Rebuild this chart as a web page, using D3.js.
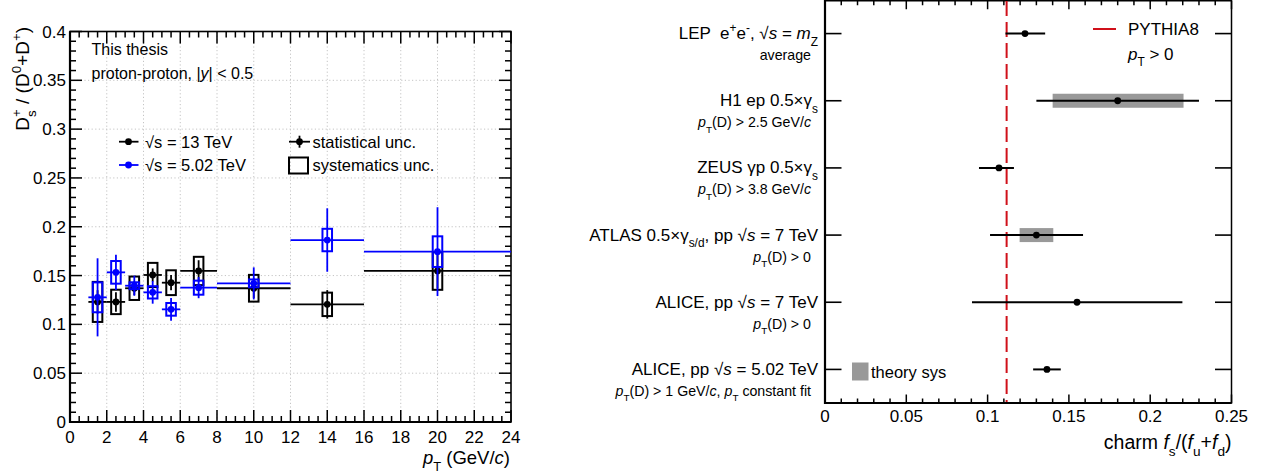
<!DOCTYPE html>
<html><head><meta charset="utf-8">
<script src="https://cdn.jsdelivr.net/npm/d3@7"></script>
<style>
body{margin:0;background:#fff;}
svg{display:block;font-family:"Liberation Sans",Arial,Helvetica,sans-serif;}
text{white-space:pre;}
</style>
</head><body><svg id="c" width="1265" height="474"></svg>
<script>
// ---------------- LEFT PANEL DATA ----------------
const binLo = [1, 2, 3, 4, 5, 6, 8, 12, 16];
const binHi = [2, 3, 4, 5, 6, 8, 12, 16, 24];
const ptCenter = [1.5, 2.5, 3.5, 4.5, 5.5, 7, 10, 14, 20];
const ratio13 = [0.123, 0.123, 0.137, 0.1506, 0.1427, 0.1547, 0.137, 0.1205, 0.1547];
const stat13 = [0.012, 0.010, 0.007, 0.0067, 0.0078, 0.011, 0.010, 0.0146, 0.018];
const syst13 = [0.0205, 0.0125, 0.012, 0.0124, 0.0127, 0.0145, 0.0137, 0.012, 0.0193];
const ratio502 = [0.1277, 0.1533, 0.1396, 0.1328, 0.1154, 0.1376, 0.142, 0.1864, 0.1745];
const stat502 = [0.040, 0.018, 0.0103, 0.0116, 0.0116, 0.0108, 0.0164, 0.0325, 0.0455];
const syst502 = [0.0153, 0.0116, 0.0035, 0.0063, 0.0065, 0.0072, 0.004, 0.0115, 0.0157];
const xTicksL = [0, 2, 4, 6, 8, 10, 12, 14, 16, 18, 20, 22, 24];
const xTickLabelsL = ['0','2','4','6','8','10','12','14','16','18','20','22','24'];
const yTicksL = [0, 0.05, 0.1, 0.15, 0.2, 0.25, 0.3, 0.35, 0.4];
const yTickLabelsL = ['0','0.05','0.1','0.15','0.2','0.25','0.3','0.35','0.4'];
const seriesNamesL = ['√s = 13 TeV', '√s = 5.02 TeV'];

// ---------------- RIGHT PANEL DATA ----------------
const measMain = [
  'LEP  e^{+}e^{-}, √#it{s} = #it{m}_{Z}',
  'H1 ep 0.5×γ_{s}',
  'ZEUS γp 0.5×γ_{s}',
  'ATLAS 0.5×γ_{s/d}, pp √#it{s} = 7 TeV',
  'ALICE, pp √#it{s} = 7 TeV',
  'ALICE, pp √#it{s} = 5.02 TeV'
];
const measSub = [
  'average',
  '#it{p}_{T}(D) > 2.5 GeV/#it{c}',
  '#it{p}_{T}(D) > 3.8 GeV/#it{c}',
  '#it{p}_{T}(D) > 0',
  '#it{p}_{T}(D) > 0',
  '#it{p}_{T}(D) > 1 GeV/#it{c}, #it{p}_{T} constant fit'
];
const fsVal = [0.123, 0.180, 0.107, 0.130, 0.155, 0.1365];
const fsErrLo = [0.111, 0.130, 0.0947, 0.1015, 0.0904, 0.128];
const fsErrHi = [0.1354, 0.230, 0.1162, 0.1587, 0.2198, 0.145];
const theoLo = [null, 0.140, null, 0.1197, null, null];
const theoHi = [null, 0.2205, null, 0.1404, null, null];
const pythiaVal = 0.1117;
const xTicksR = [0, 0.05, 0.1, 0.15, 0.2, 0.25];
const xTickLabelsR = ['0','0.05','0.1','0.15','0.2','0.25'];

// ---------------- helpers ----------------
const svg = d3.select('#c');

function rich(textSel, str, size) {
  const segs = [];
  const stack = [{shift:0, scale:1, it:false, kind:'root', gid:null, back:null}];
  let buf = '', i = 0, lastClosed = null, gidc = 0;
  const flush = () => {
    if (buf) { const s = stack[stack.length-1];
      segs.push({t:buf, shift:s.shift, scale:s.scale, it:s.it, gid:s.gid, back:s.back}); buf=''; }
  };
  while (i < str.length) {
    const s = stack[stack.length-1];
    if (str.startsWith('#it{', i)) { flush(); stack.push(Object.assign({}, s, {it:true, kind:'it'})); i += 4; lastClosed = null; }
    else if (str.startsWith('^{', i) || str.startsWith('_{', i)) {
      flush();
      const sup = str[i] === '^';
      const back = (lastClosed && lastClosed.kind === 'sub' && sup) ? lastClosed.gid : null;
      const gid = ++gidc;
      stack.push({shift: s.shift + (sup ? -0.42 : 0.38) * s.scale, scale: s.scale * 0.7, it: s.it,
                  kind: sup ? 'sup' : 'sub', gid, back});
      i += 2; lastClosed = null;
    }
    else if (str[i] === '}') { flush(); lastClosed = stack.pop(); i++; }
    else { buf += str[i]; i++; lastClosed = null; }
  }
  flush();
  let prev = 0; const widths = {}; const done = {};
  segs.forEach(sg => {
    const ts = textSel.append('tspan').text(sg.t).attr('font-size', size * sg.scale)
      .attr('dy', ((sg.shift - prev) * size).toFixed(2));
    if (sg.it) ts.attr('font-style', 'italic');
    if (sg.back && !done[sg.gid]) { ts.attr('dx', -widths[sg.back]); done[sg.gid] = true; }
    prev = sg.shift;
    if (sg.gid) widths[sg.gid] = (widths[sg.gid] || 0) + ts.node().getComputedTextLength();
  });
  return textSel;
}
function label(g, x, y, str, size, anchor) {
  const t = g.append('text').attr('x', x).attr('y', y).attr('text-anchor', anchor || 'start')
    .attr('font-size', size).attr('fill', '#000');
  return rich(t, str, size);
}
function hTicks(g, vals, scale, y, len) {
  g.selectAll(null).data(vals).join('line')
    .attr('x1', d => scale(d)).attr('x2', d => scale(d))
    .attr('y1', y).attr('y2', y + len).attr('stroke', '#000').attr('stroke-width', 1.5);
}
function vTicks(g, vals, scale, x, len) {
  g.selectAll(null).data(vals).join('line')
    .attr('y1', d => scale(d)).attr('y2', d => scale(d))
    .attr('x1', x).attr('x2', x + len).attr('stroke', '#000').attr('stroke-width', 1.5);
}

// ================= LEFT PANEL =================
const xL = d3.scaleLinear().domain([0, 24]).range([70, 511]);
const yL = d3.scaleLinear().domain([0, 0.4]).range([422, 31.5]);
const gL = svg.append('g');

// grid
gL.selectAll(null).data(xTicksL.slice(1, -1)).join('line')
  .attr('x1', d => xL(d)).attr('x2', d => xL(d)).attr('y1', yL(0)).attr('y2', yL(0.4))
  .attr('stroke', '#c4c4c4').attr('stroke-width', 1).attr('stroke-dasharray', '1.2,2.4');
gL.selectAll(null).data(yTicksL.slice(1, -1)).join('line')
  .attr('y1', d => yL(d)).attr('y2', d => yL(d)).attr('x1', xL(0)).attr('x2', xL(24))
  .attr('stroke', '#c4c4c4').attr('stroke-width', 1).attr('stroke-dasharray', '1.2,2.4');

// ticks
const xMinorL = d3.range(0, 24.001, 0.5).filter(v => v % 2 !== 0);
const yMinorL = d3.range(0, 0.4001, 0.01).map(v => +v.toFixed(2)).filter(v => Math.round(v * 100) % 5 !== 0);
hTicks(gL, xTicksL, xL, yL(0), -12); hTicks(gL, xMinorL, xL, yL(0), -6);
hTicks(gL, xTicksL, xL, yL(0.4), 12); hTicks(gL, xMinorL, xL, yL(0.4), 6);
vTicks(gL, yTicksL, yL, xL(0), 12); vTicks(gL, yMinorL, yL, xL(0), 6);
vTicks(gL, yTicksL, yL, xL(24), -12); vTicks(gL, yMinorL, yL, xL(24), -6);

// frame
gL.append('rect').attr('x', xL(0)).attr('y', yL(0.4)).attr('width', xL(24) - xL(0)).attr('height', yL(0) - yL(0.4))
  .attr('fill', 'none').attr('stroke', '#000').attr('stroke-width', 1.6);
gL.append('line').attr('x1', xL(0)).attr('x2', xL(0)).attr('y1', yL(0.4)).attr('y2', yL(0) + 1).attr('stroke', '#000').attr('stroke-width', 2.2);
gL.append('line').attr('x1', xL(0) - 1).attr('x2', xL(24)).attr('y1', yL(0)).attr('y2', yL(0)).attr('stroke', '#000').attr('stroke-width', 2.2);

// tick labels
gL.selectAll(null).data(xTicksL).join('text')
  .attr('x', d => xL(d)).attr('y', yL(0) + 20.5).attr('text-anchor', 'middle').attr('font-size', 17)
  .text((d, i) => xTickLabelsL[i]);
gL.selectAll(null).data(yTicksL).join('text')
  .attr('x', xL(0) - 4).attr('y', d => yL(d) + 6).attr('text-anchor', 'end').attr('font-size', 17)
  .text((d, i) => yTickLabelsL[i]);

// axis titles
label(gL, xL(24) - 1, 464, '#it{p}_{T} (GeV/#it{c})', 18.5, 'end');
const yt = gL.append('text').attr('transform', 'translate(29,27) rotate(-90)').attr('text-anchor', 'end').attr('font-size', 19);
rich(yt, 'D_{s}^{+} / (D^{0}+D^{+})', 19);

// series
const boxHalf = 0.26;
function drawSeries(vals, stat, syst, color) {
  const d = ptCenter.map((p, i) => ({p, lo: binLo[i], hi: binHi[i], v: vals[i], st: stat[i], sy: syst[i]}));
  const g = gL.append('g');
  g.selectAll(null).data(d).join('rect')
    .attr('x', e => xL(e.p - boxHalf)).attr('width', e => xL(e.p + boxHalf) - xL(e.p - boxHalf))
    .attr('y', e => yL(e.v + e.sy)).attr('height', e => yL(e.v - e.sy) - yL(e.v + e.sy))
    .attr('fill', 'none').attr('stroke', color).attr('stroke-width', 2);
  g.selectAll(null).data(d).join('line')
    .attr('x1', e => xL(e.lo)).attr('x2', e => xL(e.hi)).attr('y1', e => yL(e.v)).attr('y2', e => yL(e.v))
    .attr('stroke', color).attr('stroke-width', 1.8);
  g.selectAll(null).data(d).join('line')
    .attr('x1', e => xL(e.p)).attr('x2', e => xL(e.p)).attr('y1', e => yL(e.v + e.st)).attr('y2', e => yL(e.v - e.st))
    .attr('stroke', color).attr('stroke-width', 1.8);
  g.selectAll(null).data(d).join('circle')
    .attr('cx', e => xL(e.p)).attr('cy', e => yL(e.v)).attr('r', 3.4).attr('fill', color);
}
drawSeries(ratio13, stat13, syst13, '#000');
drawSeries(ratio502, stat502, syst502, '#0000ff');

// texts
label(gL, 91.5, 55, 'This thesis', 16);
label(gL, 91.5, 79, 'proton-proton, |#it{y}| < 0.5', 16);

// legend
const legColors = ['#000', '#0000ff'];
const legY = [141.7, 165];
seriesNamesL.forEach((n, i) => {
  gL.append('line').attr('x1', 119).attr('x2', 138.5).attr('y1', legY[i]).attr('y2', legY[i]).attr('stroke', legColors[i]).attr('stroke-width', 1.8);
  gL.append('circle').attr('cx', 128.5).attr('cy', legY[i]).attr('r', 3.4).attr('fill', legColors[i]);
  label(gL, 145, legY[i] + 6, n, 16.5);
});
gL.append('line').attr('x1', 289).attr('x2', 310).attr('y1', legY[0]).attr('y2', legY[0]).attr('stroke', '#000').attr('stroke-width', 1.8);
gL.append('line').attr('x1', 299.5).attr('x2', 299.5).attr('y1', legY[0] - 6).attr('y2', legY[0] + 6).attr('stroke', '#000').attr('stroke-width', 1.8);
gL.append('circle').attr('cx', 299.5).attr('cy', legY[0]).attr('r', 3.4).attr('fill', '#000');
label(gL, 312.5, legY[0] + 6, 'statistical unc.', 16.5);
gL.append('rect').attr('x', 289).attr('y', 157.5).attr('width', 19).attr('height', 16).attr('fill', 'none').attr('stroke', '#000').attr('stroke-width', 2);
label(gL, 312.5, legY[1] + 6, 'systematics unc.', 16.5);

// ================= RIGHT PANEL =================
const xR = d3.scaleLinear().domain([0, 0.25]).range([825, 1231.5]);
const yR = d3.scaleBand().domain(d3.range(measMain.length)).range([0, 403]);
const cy = i => yR(i) + yR.bandwidth() / 2;
const gR = svg.append('g');

// ticks
const xMinorR = d3.range(0, 0.2501, 0.01).map(v => +v.toFixed(2)).filter(v => Math.round(v * 100) % 5 !== 0);
hTicks(gR, xTicksR, xR, 403, -8.5); hTicks(gR, xMinorR, xR, 403, -4.5);
hTicks(gR, xTicksR, xR, 0.75, 8.5); hTicks(gR, xMinorR, xR, 0.75, 4.5);
const catIdx = d3.range(measMain.length);
gR.selectAll(null).data(catIdx).join('line')
  .attr('x1', xR(0)).attr('x2', xR(0) + 16.5).attr('y1', i => cy(i)).attr('y2', i => cy(i)).attr('stroke', '#000').attr('stroke-width', 1.6);
gR.selectAll(null).data(catIdx).join('line')
  .attr('x1', xR(0.25)).attr('x2', xR(0.25) - 16.5).attr('y1', i => cy(i)).attr('y2', i => cy(i)).attr('stroke', '#000').attr('stroke-width', 1.6);

// frame
gR.append('rect').attr('x', xR(0)).attr('y', 0.75).attr('width', xR(0.25) - xR(0)).attr('height', 403 - 0.75)
  .attr('fill', 'none').attr('stroke', '#000').attr('stroke-width', 1.5);
gR.append('line').attr('x1', xR(0)).attr('x2', xR(0)).attr('y1', 0).attr('y2', 404).attr('stroke', '#000').attr('stroke-width', 2.2);
gR.append('line').attr('x1', xR(0) - 1).attr('x2', xR(0.25)).attr('y1', 403).attr('y2', 403).attr('stroke', '#000').attr('stroke-width', 2.2);

// tick labels
gR.selectAll(null).data(xTicksR).join('text')
  .attr('x', d => xR(d)).attr('y', 421.5).attr('text-anchor', 'middle').attr('font-size', 17)
  .text((d, i) => xTickLabelsR[i]);
label(gR, xR(0.25), 449, 'charm #it{f}_{s}/(#it{f}_{u}+#it{f}_{d})', 19.5, 'end');

// category labels
measMain.forEach((s, i) => label(gR, 818, cy(i) + 5.5, s, 17, 'end'));
measSub.forEach((s, i) => label(gR, 811, cy(i) + 26.5, s, 14.2, 'end'));

// PYTHIA line
gR.append('line').attr('x1', xR(pythiaVal)).attr('x2', xR(pythiaVal)).attr('y1', 1).attr('y2', 402)
  .attr('stroke', '#d0101a').attr('stroke-width', 2).attr('stroke-dasharray', '15,6');

// theory boxes
const meas = fsVal.map((v, i) => ({i, v, lo: fsErrLo[i], hi: fsErrHi[i], tl: theoLo[i], th: theoHi[i]}));
gR.selectAll(null).data(meas.filter(m => m.tl !== null)).join('rect')
  .attr('x', m => xR(m.tl)).attr('width', m => xR(m.th) - xR(m.tl))
  .attr('y', m => cy(m.i) - 7).attr('height', 14).attr('fill', '#999999');
gR.selectAll(null).data(meas).join('line')
  .attr('x1', m => xR(m.lo)).attr('x2', m => xR(m.hi)).attr('y1', m => cy(m.i)).attr('y2', m => cy(m.i))
  .attr('stroke', '#000').attr('stroke-width', 2);
gR.selectAll(null).data(meas).join('circle')
  .attr('cx', m => xR(m.v)).attr('cy', m => cy(m.i)).attr('r', 3.4).attr('fill', '#000');

// legends
gR.append('line').attr('x1', 1093).attr('x2', 1116).attr('y1', 29).attr('y2', 29).attr('stroke', '#d0101a').attr('stroke-width', 2);
label(gR, 1128, 35, 'PYTHIA8', 17);
label(gR, 1128, 60, '#it{p}_{T} > 0', 17);
gR.append('rect').attr('x', 852).attr('y', 362.5).attr('width', 16.5).attr('height', 18).attr('fill', '#999999');
label(gR, 871, 378, 'theory sys', 16.5);
</script></body></html>
